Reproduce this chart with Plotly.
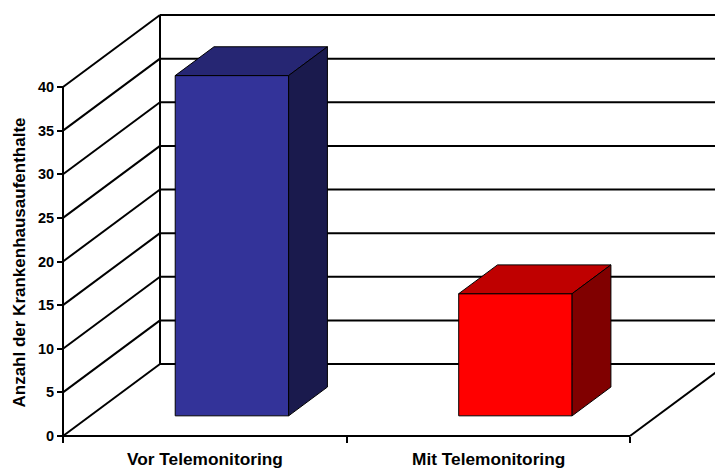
import plotly.graph_objects as go

# ---------------- data ----------------
categories = ["Vor Telemonitoring", "Mit Telemonitoring"]
values = [39, 14]
y_ticks = [0, 5, 10, 15, 20, 25, 30, 35, 40]
axis_title = "Anzahl der Krankenhausaufenthalte"

front_colors = ["#333399", "#FF0000"]
top_colors = ["#262673", "#BF0000"]
side_colors = ["#1A1A4D", "#800000"]

# ---------------- geometry (pixels -> data scale) ----------------
W, H = 715, 468
PX_X0, PX_XN = 63, 630      # pixel of category-axis start / end
PX_Y0, PX_YMAX = 436, 87    # pixel of value 0 / value 40 on front axis
L, R, T, B = 55, 715, 8, 440  # plot area in pixels
ncat = len(categories)
ymax = y_ticks[-1]
SX = (PX_XN - PX_X0) / ncat
SY = (PX_Y0 - PX_YMAX) / ymax
DX = 97 / SX                # depth offset of back wall (x units)
DY = 72 / SY                # depth offset of back wall (value units)
BAR_W = 0.4
D_FRONT, D_BACK = 0.28, 0.68

x_range = [(L - PX_X0) / SX, (R - PX_X0) / SX]
y_range = [(PX_Y0 - B) / SY, (PX_Y0 - T) / SY]

FONT = "Arial, Liberation Sans, sans-serif"

fig = go.Figure()

# ---------------- walls and grid ----------------
xs, ys = [], []


def seg(x1, y1, x2, y2):
    xs.extend([x1, x2, None])
    ys.extend([y1, y2, None])


seg(0, 0, 0, ymax)                      # front-left vertical
seg(DX, DY, DX, DY + ymax)              # back-left vertical
for v in y_ticks:
    seg(0, v, DX, v + DY)               # left wall diagonals
    seg(DX, v + DY, ncat + DX, v + DY)  # back wall gridlines
seg(0, 0, ncat, 0)                      # floor front edge
seg(ncat, 0, ncat + DX, DY)             # floor right edge

fig.add_trace(go.Scatter(x=xs, y=ys, mode="lines",
                         line=dict(color="black", width=2),
                         hoverinfo="skip", showlegend=False))

# ---------------- 3D bars ----------------
ddx = (D_BACK - D_FRONT) * DX
ddy = (D_BACK - D_FRONT) * DY
for i, val in enumerate(values):
    x0 = i + 0.5 - BAR_W / 2 + D_FRONT * DX
    x1 = x0 + BAR_W
    yb = D_FRONT * DY
    yt = yb + val
    faces = [
        ([x0, x1, x1, x0, x0], [yb, yb, yt, yt, yb], front_colors[i]),
        ([x0, x1, x1 + ddx, x0 + ddx, x0], [yt, yt, yt + ddy, yt + ddy, yt], top_colors[i]),
        ([x1, x1 + ddx, x1 + ddx, x1, x1], [yb, yb + ddy, yt + ddy, yt, yb], side_colors[i]),
    ]
    for fx, fy, col in faces:
        fig.add_trace(go.Scatter(x=fx, y=fy, mode="lines", fill="toself",
                                 fillcolor=col, line=dict(color="black", width=1),
                                 hoverinfo="skip", showlegend=False))

# ---------------- labels ----------------
for i, cat in enumerate(categories):
    fig.add_annotation(x=i + 0.5, xref="x", y=(B - 458.5) / (B - T), yref="paper",
                       text=cat, showarrow=False, xanchor="center", yanchor="middle",
                       font=dict(family=FONT, size=17.3, color="black", weight="bold"))

fig.add_annotation(x=(19 - L) / (R - L), xref="paper", y=(B - 262.5) / (B - T), yref="paper",
                   text=axis_title, textangle=-90, showarrow=False,
                   xanchor="center", yanchor="middle",
                   font=dict(family=FONT, size=17, color="black", weight="bold"))

fig.update_layout(
    width=W, height=H,
    margin=dict(l=L, r=W - R, t=T, b=H - B, pad=0),
    paper_bgcolor="white", plot_bgcolor="white",
    xaxis=dict(range=x_range, anchor="free", position=(B - PX_Y0) / (B - T),
               tickvals=list(range(ncat + 1)), ticktext=[""] * (ncat + 1),
               ticks="outside", ticklen=6, tickwidth=2, tickcolor="black",
               showgrid=False, zeroline=False, showline=False, fixedrange=True),
    yaxis=dict(range=y_range, anchor="free", position=(PX_X0 - L) / (R - L),
               tickvals=y_ticks, ticks="outside", ticklen=6, tickwidth=2,
               tickcolor="black",
               tickfont=dict(family=FONT, size=14.5, color="black", weight="bold"),
               showgrid=False, zeroline=False, showline=False, fixedrange=True),
    showlegend=False,
)

fig.write_html("out.html")
